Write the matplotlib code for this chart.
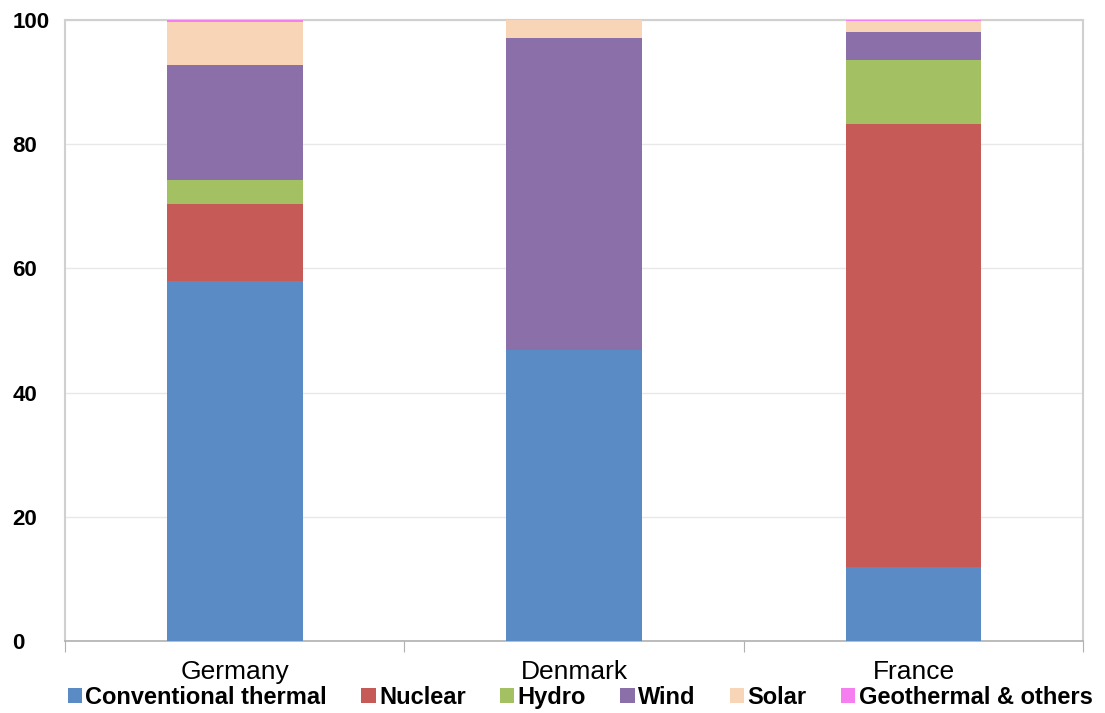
import matplotlib
matplotlib.use('Agg')
import matplotlib.pyplot as plt
import numpy as np

countries = ['Germany', 'Denmark', 'France']
sources = ['Conventional thermal', 'Nuclear', 'Hydro', 'Wind', 'Solar', 'Geothermal & others']
colors = ['#5b8bc4', '#c55a57', '#a3c062', '#8b6fa9', '#f9d5b8', '#f57ff0']

thermal = [58.0, 46.9, 11.9]
nuclear = [12.4, 0.0, 71.4]
hydro = [3.9, 0.0, 10.2]
wind = [18.4, 50.2, 4.5]
solar = [7.0, 2.9, 1.8]
geothermal = [0.3, 0.0, 0.2]

plt.rcParams['font.family'] = ['Liberation Sans', 'DejaVu Sans']

fig = plt.figure(figsize=(11.05, 7.13), dpi=100)
ax = fig.add_axes([0.0588, 0.101, 0.9215, 0.871])

x = np.arange(len(countries))
bottom = np.zeros(len(countries))
for name, vals, col in zip(sources, [thermal, nuclear, hydro, wind, solar, geothermal], colors):
    ax.bar(x, vals, 0.4, bottom=bottom, color=col, label=name, zorder=3)
    bottom += np.array(vals)

ax.set_xlim(-0.5, 2.5)
ax.set_ylim(0, 100)
ax.set_yticks([0, 20, 40, 60, 80, 100])
ax.yaxis.grid(True, color='#e8e8e8', linewidth=1, zorder=0)
# labels are left aligned near the figure edge
ax.tick_params(axis='y', length=0, pad=38, labelsize=16)
for t in ax.get_yticklabels():
    t.set_fontweight('bold')
    t.set_horizontalalignment('left')

# category labels sit between the boundary ticks
ax.set_xticks([-0.5, 0.5, 1.5, 2.5])
ax.set_xticklabels([])
ax.set_xticks(x, minor=True)
ax.set_xticklabels(countries, minor=True, fontsize=19)
ax.tick_params(axis='x', which='major', length=8, color='#b0b0b0', direction='out')
ax.tick_params(axis='x', which='minor', length=0, pad=14)

for s in ['left', 'top', 'right']:
    ax.spines[s].set_color('#d0d0d0')
    ax.spines[s].set_linewidth(1.5)
ax.spines['bottom'].set_color('#b0b0b0')
ax.spines['bottom'].set_linewidth(1.2)

fig.legend(*ax.get_legend_handles_labels(), loc='lower center', ncol=6,
           bbox_to_anchor=(0.525, -0.024), frameon=False,
           prop={'weight': 'bold', 'size': 17}, handlelength=0.6, handleheight=0.6,
           handletextpad=0.15, columnspacing=1.45)

fig.savefig('out.png', dpi=100)
